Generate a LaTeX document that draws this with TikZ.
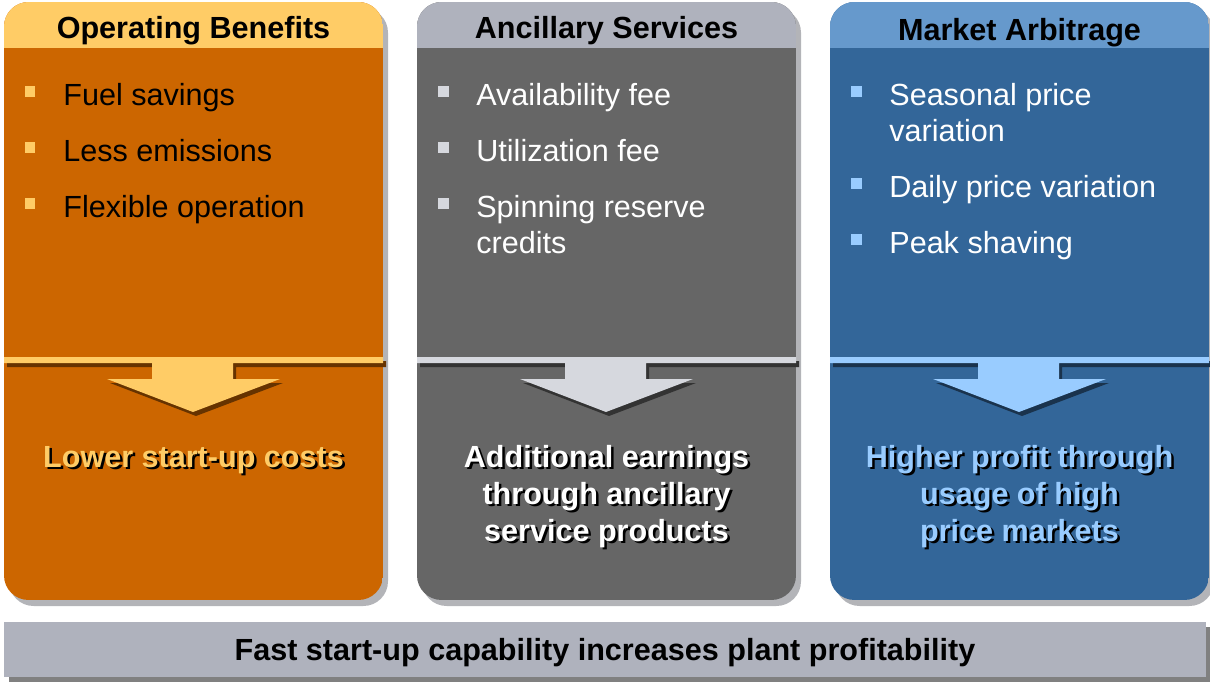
\documentclass[tikz,border=0pt]{standalone}
\usepackage{fontspec}
\setmainfont{Liberation Sans}
\usetikzlibrary{positioning}

\definecolor{orangehead}{HTML}{FFCC66}
\definecolor{orangebody}{HTML}{CC6600}
\definecolor{orangedark}{HTML}{663300}
\definecolor{grayhead}{HTML}{AFB2BD}
\definecolor{graybody}{HTML}{666666}
\definecolor{graylight}{HTML}{D6D8DE}
\definecolor{graydark}{HTML}{333333}
\definecolor{bluehead}{HTML}{6699CC}
\definecolor{bluebody}{HTML}{336699}
\definecolor{bluelight}{HTML}{99CCFF}
\definecolor{bluedark}{HTML}{1A334D}
\definecolor{boxshadow}{HTML}{B3B4B8}
\definecolor{barshadow}{HTML}{808080}

% bullet item: name, x, baseline y of first line, bullet colour, text
\newcommand{\listitem}[5]{%
  \node[bulletsq, fill=#4] (#1sq) at (#2-33,#3-14.5) {};
  \node[itemtext] (#1) at (#2,#3) {\begin{tabular}[t]{@{}l@{}}#5\end{tabular}};}
% bold text with a dark drop shadow: name, x, baseline y of last line, colour, text
\newcommand{\shadowtext}[5]{%
  \node[restext, text=black] (#1sh) at (#2+2.5,#3+2.5) {#5};
  \node[restext, text=#4] (#1) at (#2,#3) {#5};}

\begin{document}
\begin{tikzpicture}[x=0.02cm, y=-0.02cm,
    headtext/.style={font=\fontsize{17.4}{20.8}\selectfont\bfseries, anchor=base, inner sep=0pt},
    itemtext/.style={font=\fontsize{17.4}{20.4}\selectfont, anchor=base west, inner sep=0pt},
    restext/.style={font=\fontsize{17.4}{21}\selectfont\bfseries, anchor=base, align=center, inner sep=0pt},
    bulletsq/.style={rectangle, minimum size=0.22cm, inner sep=0pt}]
  \useasboundingbox (0,0) rectangle (1210,682);

  % the three columns
  \foreach \lft/\hd/\bd/\lt/\dk in {4/orangehead/orangebody/orangehead/orangedark,
      417/grayhead/graybody/graylight/graydark, 830/bluehead/bluebody/bluelight/bluedark} {
    \begin{scope}[shift={(\lft,0)}]
      \fill[boxshadow, rounded corners=14] (5,8) rectangle (384,606);
      \begin{scope}
        \clip[rounded corners=14] (0,2) rectangle (379,600);
        \fill[\bd] (0,2) rectangle (379,600);
        \fill[\hd] (0,2) rectangle (379,48);
      \end{scope}
      % divider with down arrow
      \fill[\dk, shift={(3,4)}] (0,357) -- (379,357) -- (379,363) -- (229,363) -- (229,379)
        -- (276,379) -- (189,412) -- (103,379) -- (148,379) -- (148,363) -- (0,363) -- cycle;
      \fill[\lt] (0,357) -- (379,357) -- (379,363) -- (229,363) -- (229,379)
        -- (276,379) -- (189,412) -- (103,379) -- (148,379) -- (148,363) -- (0,363) -- cycle;
    \end{scope}
  }

  % headers
  \node[headtext] (ophead) at (193.5,39) {Operating Benefits};
  \node[headtext] (anchead) at (606.5,39) {Ancillary Services};
  \node[headtext] (markhead) at (1019.5,41) {Market Arbitrage};

  % bullet lists
  \listitem{fuel}{63}{106}{orangehead}{Fuel savings}
  \listitem{emis}{63}{162}{orangehead}{Less emissions}
  \listitem{flex}{63}{218}{orangehead}{Flexible operation}
  \begin{scope}[itemtext/.append style={text=white}]
    \listitem{avail}{476}{106}{graylight}{Availability fee}
    \listitem{util}{476}{162}{graylight}{Utilization fee}
    \listitem{spin}{476}{218}{graylight}{Spinning reserve\\credits}
    \listitem{season}{889}{106}{bluelight}{Seasonal price\\variation}
    \listitem{daily}{889}{198}{bluelight}{Daily price variation}
    \listitem{peak}{889}{254}{bluelight}{Peak shaving}
  \end{scope}

  % outcomes
  \shadowtext{lower}{193.5}{467}{orangehead}{Lower start-up costs}
  \shadowtext{earn}{606.5}{541}{white}{Additional earnings\\through ancillary\\service products}
  \shadowtext{profit}{1019.5}{541}{bluelight}{Higher profit through\\usage of high\\price markets}

  % bottom bar
  \fill[barshadow] (9,627) rectangle (1211,682);
  \fill[grayhead] (4,622) rectangle (1206,677);
  \node[headtext] (summary) at (605,660) {Fast start-up capability increases plant profitability};
\end{tikzpicture}
\end{document}
